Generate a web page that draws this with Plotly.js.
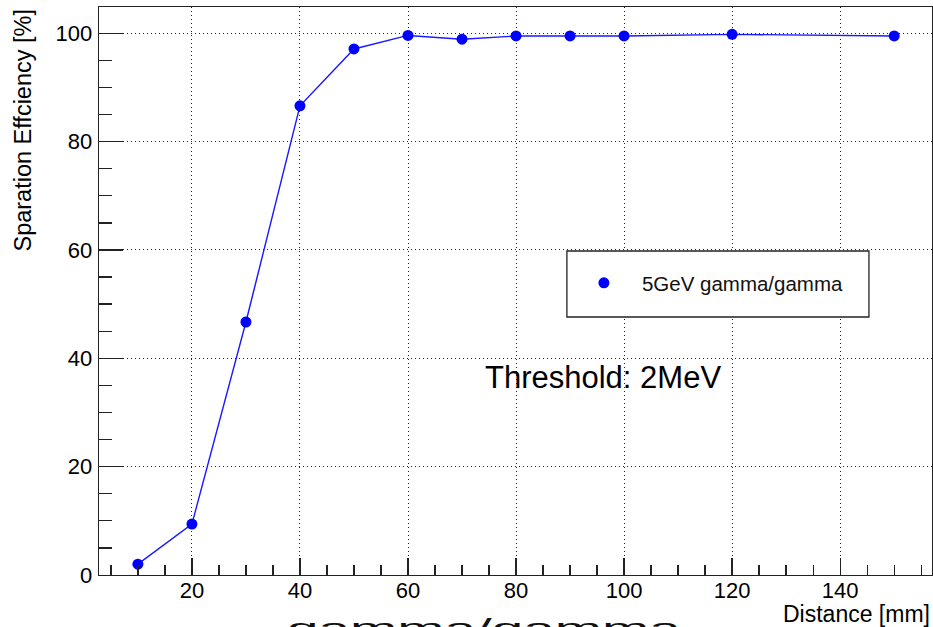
<!DOCTYPE html>
<html>
<head>
<meta charset="utf-8">
<script src="https://cdn.plot.ly/plotly-3.0.1.min.js"></script>
<style>
  html, body { margin: 0; padding: 0; background: #fff; }
  #chart { width: 933px; height: 627px; }
</style>
</head>
<body>
<div id="chart"></div>
<script>
// ---- data ----
const distanceMM = [10, 20, 30, 40, 50, 60, 70, 80, 90, 100, 120, 150];
const separationEff = [2.0, 9.4, 46.7, 86.6, 97.1, 99.6, 98.9, 99.5, 99.5, 99.5, 99.8, 99.5];
const seriesName = '5GeV gamma/gamma';
const xTitle = 'Distance [mm]';
const yTitle = 'Sparation Effciency [%]';
const noteText = 'Threshold: 2MeV';
const bottomText = 'gamma/gamma';

const FONT = '"Liberation Sans", Arial, Helvetica, sans-serif';
const AXC = '#222';

const lineTrace = {
  x: distanceMM,
  y: separationEff,
  type: 'scatter',
  mode: 'lines',
  name: seriesName,
  line: { color: '#1a1aff', width: 1.4 },
  showlegend: false,
  hoverinfo: 'skip'
};

const markerTrace = {
  x: distanceMM,
  y: separationEff,
  type: 'scatter',
  mode: 'markers',
  name: seriesName,
  marker: { color: '#0000ff', size: 11, symbol: 'circle' },
  showlegend: true
};

const layout = {
  width: 933,
  height: 627,
  margin: { l: 99, r: 1, t: 7, b: 52, pad: 0 },
  paper_bgcolor: '#fff',
  plot_bgcolor: '#fff',
  font: { family: FONT, color: '#000', size: 22 },
  xaxis: {
    range: [2.8, 157],
    dtick: 20,
    tick0: 0,
    ticks: 'inside',
    ticklen: 17,
    tickwidth: 1.3,
    tickcolor: AXC,
    minor: { dtick: 5, ticks: 'inside', ticklen: 10, tickwidth: 1.3, tickcolor: AXC, showgrid: false },
    showline: true,
    mirror: true,
    linecolor: AXC,
    linewidth: 1.3,
    showgrid: true,
    gridcolor: '#222',
    gridwidth: 1,
    griddash: '1px,3px',
    zeroline: false,
    tickfont: { family: FONT, size: 22, color: '#000' },
    ticklabelstandoff: -5
  },
  yaxis: {
    range: [0, 104.85],
    dtick: 20,
    tick0: 0,
    ticks: 'inside',
    ticklen: 24,
    tickwidth: 1.3,
    tickcolor: AXC,
    minor: { dtick: 5, ticks: 'inside', ticklen: 13, tickwidth: 1.3, tickcolor: AXC, showgrid: false },
    showline: true,
    mirror: true,
    linecolor: AXC,
    linewidth: 1.3,
    showgrid: true,
    gridcolor: '#222',
    gridwidth: 1,
    griddash: '1px,3px',
    zeroline: false,
    tickfont: { family: FONT, size: 22, color: '#000' },
    ticklabelstandoff: 1
  },
  showlegend: true,
  legend: {
    x: 0.5605,
    xanchor: 'left',
    y: 0.514,
    yanchor: 'middle',
    bgcolor: 'rgba(0,0,0,0)',
    borderwidth: 0,
    itemwidth: 66,
    font: { family: FONT, size: 20.5, color: '#111' }
  },
  shapes: [
    {
      type: 'rect', xref: 'paper', yref: 'paper', layer: 'above',
      x0: 0.5617, x1: 0.9243, y0: 0.4542, y1: 0.5704,
      line: { color: '#222', width: 1.3 },
      fillcolor: '#fff'
    }
  ],
  annotations: [
    {
      text: noteText, xref: 'paper', yref: 'paper',
      x: 0.4610, xanchor: 'left', y: 0.3485, yanchor: 'middle',
      showarrow: false, font: { family: FONT, size: 31, color: '#000' }
    },
    {
      text: yTitle, xref: 'paper', yref: 'paper', textangle: -90,
      x: -0.0924, xanchor: 'center', y: 1, yanchor: 'top',
      showarrow: false, font: { family: FONT, size: 23.5, color: '#000' }
    },
    {
      text: xTitle, xref: 'paper', yref: 'paper',
      x: 1, xanchor: 'right', y: -0.0687, yanchor: 'middle',
      showarrow: false, font: { family: FONT, size: 23, color: '#000' }
    },
    {
      text: bottomText, xref: 'paper', yref: 'paper',
      x: 0.2233, xanchor: 'left', y: -0.0941, yanchor: 'middle',
      showarrow: false, font: { family: FONT, size: 26, color: '#111' }
    }
  ]
};

Plotly.newPlot('chart', [lineTrace, markerTrace], layout, { displayModeBar: false, staticPlot: true }).then(function () {
  // horizontally stretch the clipped bottom caption, as in the reference
  document.querySelectorAll('text.annotation-text').forEach(function (t) {
    if (t.textContent === bottomText) {
      const bb = t.getBBox();
      const x0 = bb.x;
      t.setAttribute('transform', 'translate(' + x0 + ',0) scale(2.18,1) translate(' + (-x0) + ',0)');
    }
  });
});
</script>
</body>
</html>
